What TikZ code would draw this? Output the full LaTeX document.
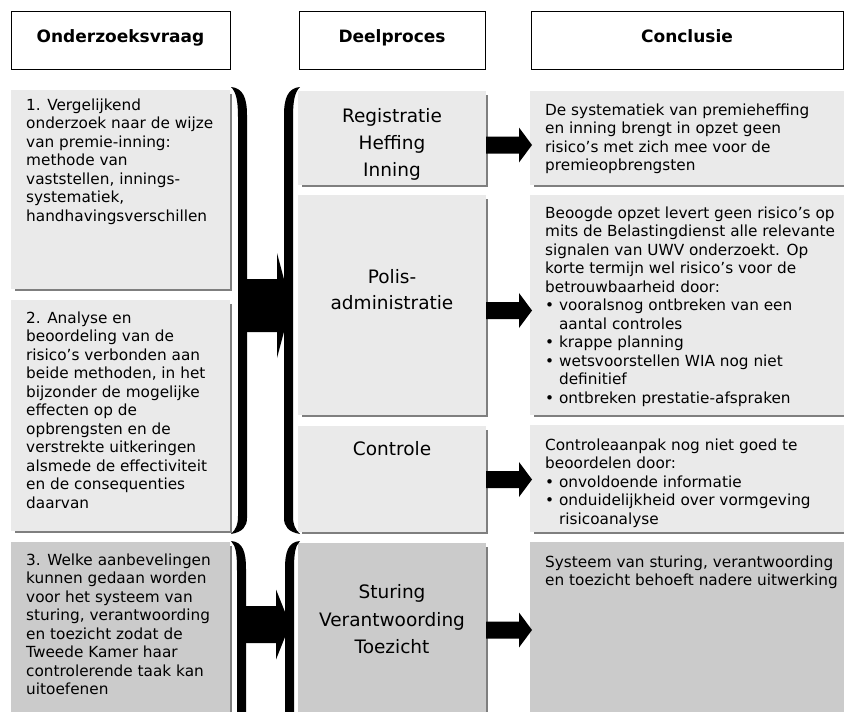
\documentclass[tikz,border=0pt]{standalone}
\usepackage{fontspec}
\setmainfont{DejaVu Sans}
\usetikzlibrary{calc}
\definecolor{boxlight}{HTML}{EAEAEA}
\definecolor{boxdark}{HTML}{CBCBCB}
\definecolor{shadowgray}{HTML}{7F7F7F}
\newcommand\boxshadow[1]{\draw[shadowline] ($(#1.north east)+(1,4)$) -- ($(#1.south east)+(1,1)$) -- ($(#1.south west)+(4,1)$);}
\newcommand\blockarrow[5]{%
  \fill ($(#1)+(0,-#3)$) -- ($(#2)+(-#5,-#3)$) -- ($(#2)+(-#5,-#4)$) -- (#2) -- ($(#2)+(-#5,#4)$) -- ($(#2)+(-#5,#3)$) -- ($(#1)+(0,#3)$) -- cycle;}
\begin{document}
\begin{tikzpicture}[x=1pt,y=-1pt,
  panel/.style={anchor=north west, inner sep=0pt, outer sep=0pt, draw=none},
  lightpanel/.style={panel, fill=boxlight},
  darkpanel/.style={panel, fill=boxdark},
  shadowline/.style={draw=shadowgray, line width=2pt},
  headbox/.style={anchor=north west, inner sep=0pt, draw=black, line width=1.3pt, fill=white},
  headtext/.style={font=\fontsize{17}{20}\selectfont\bfseries, inner sep=0pt, anchor=base},
  bodytext/.style={font=\fontsize{15.3}{18.5}\selectfont, inner sep=0pt, align=left, anchor=north west},
  midtext/.style={font=\fontsize{18.5}{27}\selectfont, inner sep=0pt, align=center, anchor=north},
]
\useasboundingbox (0,0) rectangle (844,712);
\clip (0,0) rectangle (844,712);

% headers
\node[headbox, minimum width=219pt, minimum height=58pt] (h1) at (11,11) {};
\node[headbox, minimum width=186pt, minimum height=58pt] (h2) at (299,11) {};
\node[headbox, minimum width=312pt, minimum height=58pt] (h3) at (531,11) {};
\node[headtext] (h1t) at (120.5,42) {Onderzoeksvraag};
\node[headtext] (h2t) at (392,42) {Deelproces};
\node[headtext] (h3t) at (687,42) {Conclusie};

% left column
\node[lightpanel, minimum width=219pt, minimum height=199pt] (q1) at (11,90) {};
\node[lightpanel, minimum width=219pt, minimum height=231pt] (q2) at (11,300) {};
\node[darkpanel, minimum width=219pt, minimum height=190pt] (q3) at (11,542) {};
\boxshadow{q1}\boxshadow{q2}\boxshadow{q3}

% middle column
\node[lightpanel, minimum width=188pt, minimum height=94pt] (m1) at (298,91) {};
\node[lightpanel, minimum width=188pt, minimum height=220pt] (m2) at (298,195) {};
\node[lightpanel, minimum width=188pt, minimum height=106pt] (m3) at (298,426) {};
\node[darkpanel, minimum width=188pt, minimum height=190pt] (m4) at (298,543) {};
\boxshadow{m1}\boxshadow{m2}\boxshadow{m3}\boxshadow{m4}

% right column
\node[lightpanel, minimum width=320pt, minimum height=94pt] (c1) at (530,91) {};
\node[lightpanel, minimum width=320pt, minimum height=220pt] (c2) at (530,195) {};
\node[lightpanel, minimum width=320pt, minimum height=107pt] (c3) at (530,425) {};
\node[darkpanel, minimum width=320pt, minimum height=190pt] (c4) at (530,542) {};
\boxshadow{c1}\boxshadow{c2}\boxshadow{c3}\boxshadow{c4}

% texts left
\node[bodytext] (q1t) at (26,98.5) {1. Vergelijkend\\onderzoek naar de wijze\\van premie-inning:\\methode van\\vaststellen, innings-\\systematiek,\\handhavingsverschillen};
\node[bodytext] (q2t) at (26,311.5) {2. Analyse en\\beoordeling van de\\risico’s verbonden aan\\beide methoden, in het\\bijzonder de mogelijke\\effecten op de\\opbrengsten en de\\verstrekte uitkeringen\\alsmede de effectiviteit\\en de consequenties\\daarvan};
\node[bodytext] (q3t) at (26,553.5) {3. Welke aanbevelingen\\kunnen gedaan worden\\voor het systeem van\\sturing, verantwoording\\en toezicht zodat de\\Tweede Kamer haar\\controlerende taak kan\\uitoefenen};

% texts middle
\node[midtext] (m1t) at (392,108.5) {Registratie\\Heffing\\Inning};
\node[midtext, font=\fontsize{18.5}{26}\selectfont] (m2t) at (392,269.5) {Polis-\\administratie};
\node[midtext] (m3t) at (392,441.5) {Controle};
\node[midtext, font=\fontsize{18.5}{27.5}\selectfont] (m4t) at (392,584.5) {Sturing\\Verantwoording\\Toezicht};

% texts right
\node[bodytext] (c1t) at (545,103.5) {De systematiek van premieheffing\\en inning brengt in opzet geen\\risico’s met zich mee voor de\\premieopbrengsten};
\node[bodytext] (c2t) at (545,206.5) {Beoogde opzet levert geen risico’s op\\mits de Belastingdienst alle relevante\\signalen van UWV onderzoekt. Op\\korte termijn wel risico’s voor de\\betrouwbaarheid door:\\• vooralsnog ontbreken van een\\\phantom{• }aantal controles\\• krappe planning\\• wetsvoorstellen WIA nog niet\\\phantom{• }definitief\\• ontbreken prestatie-afspraken};
\node[bodytext] (c3t) at (545,438.5) {Controleaanpak nog niet goed te\\beoordelen door:\\• onvoldoende informatie\\• onduidelijkheid over vormgeving\\\phantom{• }risicoanalyse};
\node[bodytext] (c4t) at (545,555.5) {Systeem van sturing, verantwoording\\en toezicht behoeft nadere uitwerking};

% braces (group A)
\fill (231,87) .. controls (243,88) and (247,98) .. (247,115) -- (247,518) .. controls (247,526) and (243,532) .. (231,534) .. controls (236,529) and (238,525) .. (238,516) -- (238,117) .. controls (238,100) and (236,92) .. (231,87) -- cycle;
\begin{scope}[shift={(531,0)}, xscale=-1]
\fill (231,87) .. controls (243,88) and (247,98) .. (247,115) -- (247,518) .. controls (247,526) and (243,532) .. (231,534) .. controls (236,529) and (238,525) .. (238,516) -- (238,117) .. controls (238,100) and (236,92) .. (231,87) -- cycle;
\end{scope}
% braces (group B)
\fill (231,541) .. controls (243,542) and (246,552) .. (246,569) -- (246,730) -- (237,730) -- (237,571) .. controls (237,554) and (236,546) .. (231,541) -- cycle;
\begin{scope}[shift={(531,0)}, xscale=-1]
\fill (231,541) .. controls (243,542) and (246,552) .. (246,569) -- (246,730) -- (237,730) -- (237,571) .. controls (237,554) and (236,546) .. (231,541) -- cycle;
\end{scope}

% arrows
\coordinate (bAs) at (242,305.5);
\coordinate (bAe) at (291,305.5);
\blockarrow{bAs}{bAe}{26.5}{52.5}{14}
\coordinate (bBs) at (242,624.5);
\coordinate (bBe) at (290,624.5);
\blockarrow{bBs}{bBe}{18.5}{35}{14}

\coordinate (a1s) at (486,145);   \coordinate (a1e) at (532,145);
\coordinate (a2s) at (486,310.5); \coordinate (a2e) at (532,310.5);
\coordinate (a3s) at (486,479.5); \coordinate (a3e) at (532,479.5);
\coordinate (a4s) at (486,630);   \coordinate (a4e) at (532,630);
\blockarrow{a1s}{a1e}{8.5}{17.5}{13}
\blockarrow{a2s}{a2e}{8.5}{17.5}{13}
\blockarrow{a3s}{a3e}{8.5}{17.5}{13}
\blockarrow{a4s}{a4e}{8.5}{17.5}{13}
\end{tikzpicture}
\end{document}
